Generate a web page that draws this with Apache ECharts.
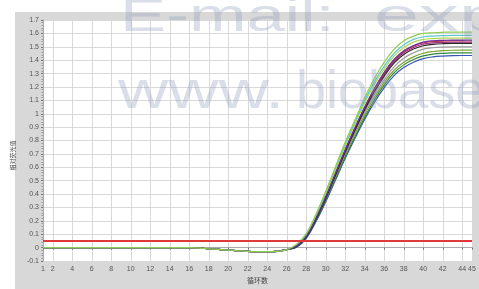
<!DOCTYPE html>
<html><head><meta charset="utf-8">
<script src="https://cdn.jsdelivr.net/npm/echarts@6/dist/echarts.min.js"></script>
<style>html,body{margin:0;padding:0;background:#fff}#c{width:479px;height:289px}</style>
</head><body><div id="c"></div>
<script>
const cycles = ['1','2','3','4','5','6','7','8','9','10','11','12','13','14','15','16','17','18','19','20','21','22','23','24','25','26','27','28','29','30','31','32','33','34','35','36','37','38','39','40','41','42','43','44','45'];
const xTickLabels = ['1','2','4','6','8','10','12','14','16','18','20','22','24','26','28','30','32','34','36','38','40','42','44','45'];
const baseline = [0,0,0,0,0,0,0,0,0,0,0,0,0,0,0,0,-0.003,-0.008,-0.013,-0.018,-0.023,-0.027,-0.029,-0.03,-0.027,-0.014];
const lightGreen = baseline.concat([0.025,0.105,0.25,0.42,0.605,0.79,0.955,1.12,1.265,1.385,1.48,1.545,1.58,1.60,1.605,1.608,1.61,1.61,1.61]);
const cyan = baseline.concat([0.022,0.1,0.245,0.415,0.595,0.775,0.94,1.1,1.24,1.355,1.45,1.515,1.555,1.575,1.58,1.583,1.585,1.585,1.585]);
const yellowGreen = baseline.concat([0.018,0.095,0.235,0.4,0.58,0.76,0.925,1.08,1.22,1.335,1.43,1.495,1.535,1.555,1.561,1.564,1.565,1.565,1.565]);
const purple = baseline.concat([0.012,0.085,0.22,0.38,0.555,0.73,0.895,1.05,1.19,1.31,1.405,1.47,1.51,1.535,1.545,1.548,1.55,1.55,1.55]);
const crimson = baseline.concat([0.014,0.088,0.223,0.383,0.56,0.735,0.897,1.05,1.187,1.305,1.4,1.465,1.505,1.53,1.539,1.543,1.545,1.545,1.545]);
const magenta = baseline.concat([0.01,0.082,0.215,0.373,0.548,0.722,0.885,1.038,1.175,1.293,1.39,1.455,1.495,1.52,1.529,1.533,1.535,1.535,1.535]);
const black = baseline.concat([0.008,0.078,0.21,0.367,0.541,0.715,0.877,1.03,1.165,1.281,1.378,1.443,1.483,1.508,1.518,1.523,1.525,1.525,1.525]);
const gray = baseline.concat([0.012,0.084,0.215,0.37,0.54,0.71,0.865,1.015,1.145,1.255,1.35,1.415,1.455,1.482,1.493,1.498,1.5,1.5,1.5]);
const olive = baseline.concat([0.015,0.088,0.218,0.37,0.535,0.7,0.85,0.995,1.125,1.235,1.325,1.385,1.425,1.452,1.465,1.471,1.474,1.475,1.475]);
const green = baseline.concat([0.006,0.074,0.2,0.35,0.515,0.68,0.83,0.975,1.105,1.215,1.305,1.365,1.405,1.432,1.445,1.451,1.454,1.455,1.455]);
const blue = baseline.concat([0.004,0.07,0.195,0.343,0.505,0.668,0.817,0.96,1.087,1.195,1.285,1.345,1.385,1.412,1.425,1.431,1.434,1.435,1.435]);
const threshold = [0.05,0.05,0.05,0.05,0.05,0.05,0.05,0.05,0.05,0.05,0.05,0.05,0.05,0.05,0.05,0.05,0.05,0.05,0.05,0.05,0.05,0.05,0.05,0.05,0.05,0.05,0.05,0.05,0.05,0.05,0.05,0.05,0.05,0.05,0.05,0.05,0.05,0.05,0.05,0.05,0.05,0.05,0.05,0.05,0.05];
const watermark = ['E-mail:', 'exp', 'www.', 'biobase'];

const curves = [
  ['blue', blue, '#3a55b5'],
  ['green', green, '#2f8a3c'],
  ['olive', olive, '#7ea232'],
  ['gray', gray, '#9c9c9c'],
  ['magenta', magenta, '#a3307e'],
  ['crimson', crimson, '#c42a48'],
  ['black', black, '#2a2a2a'],
  ['yellowGreen', yellowGreen, '#b2d64c'],
  ['cyan', cyan, '#5fc6cf'],
  ['purple', purple, '#6a2d9c'],
  ['lightGreen', lightGreen, '#8fd050']
];

const chart = echarts.init(document.getElementById('c'), null, {renderer:'canvas'});
const series = curves.map(c => ({
  name: c[0], type: 'line', data: c[1], smooth: 0.4, showSymbol: false,
  lineStyle: {color: c[2], width: 1.2}, itemStyle: {color: c[2]}, z: 3
}));
series.push({name:'threshold', type:'line', data: threshold, showSymbol:false,
  lineStyle:{color:'#e0393a', width:2}, z: 4});

const wmFill = 'rgba(140,155,185,0.33)';
chart.setOption({
  animation: false,
  backgroundColor: '#ffffff',
  graphic: [
    {type:'rect', shape:{x:15, y:12, width:464, height:277}, style:{fill:'#d8d8d8'}, z:-10, silent:true},
    {type:'text', left:120, top:-5, z:100, silent:true, scaleX:1.5,
      style:{text:watermark[0], font:'46px "Liberation Sans", Arial, sans-serif', fill:wmFill}},
    {type:'text', left:374, top:-5, z:100, silent:true, scaleX:1.75,
      style:{text:watermark[1], font:'46px "Liberation Sans", Arial, sans-serif', fill:wmFill}},
    {type:'text', left:118, top:66, z:100, silent:true, scaleX:1.29,
      style:{text:watermark[2], font:'54px "Liberation Sans", Arial, sans-serif', fill:wmFill}},
    {type:'text', left:296, top:66, z:100, silent:true, scaleX:1.0,
      style:{text:watermark[3], font:'54px "Liberation Sans", Arial, sans-serif', fill:wmFill}}
  ],
  grid: {left:43, right:7, top:20, bottom:21, show:true, backgroundColor:'#ffffff', borderWidth:0, z:0},
  xAxis: {
    type:'category', data: cycles, boundaryGap:false,
    name:'循环数', nameLocation:'middle', nameGap:13,
    nameTextStyle:{fontSize:7, color:'#444', fontFamily:'"Noto Sans CJK SC", sans-serif'},
    axisLine:{show:true, lineStyle:{color:'#aaaaaa'}},
    axisTick:{show:true, length:2, lineStyle:{color:'#777'}, interval:(i,v)=>xTickLabels.indexOf(v)>=0},
    axisLabel:{fontSize:7, color:'#555', margin:4, interval:(i,v)=>xTickLabels.indexOf(v)>=0, fontFamily:'"Liberation Sans", sans-serif'},
    splitLine:{show:true, lineStyle:{color:'#d9d9d9', width:1}, interval:(i,v)=>(+v)%2===0}
  },
  yAxis: {
    type:'value', min:-0.1, max:1.7, interval:0.1,
    name:'相对荧光值', nameLocation:'middle', nameGap:22, nameRotate:90,
    nameTextStyle:{fontSize:6, color:'#444', fontFamily:'"Noto Sans CJK SC", sans-serif', padding:[0,0,0,-30]},
    axisLine:{show:true, lineStyle:{color:'#aaaaaa'}},
    axisTick:{show:true, length:2, lineStyle:{color:'#777'}},
    minorTick:{show:true, splitNumber:5, length:1.5, lineStyle:{color:'#999'}},
    axisLabel:{fontSize:7, color:'#555', margin:4, fontFamily:'"Liberation Sans", sans-serif',
      formatter: v => String(+v.toFixed(1))},
    splitLine:{show:true, lineStyle:{color:'#d9d9d9', width:1}}
  },
  series: series
});
</script></body></html>
